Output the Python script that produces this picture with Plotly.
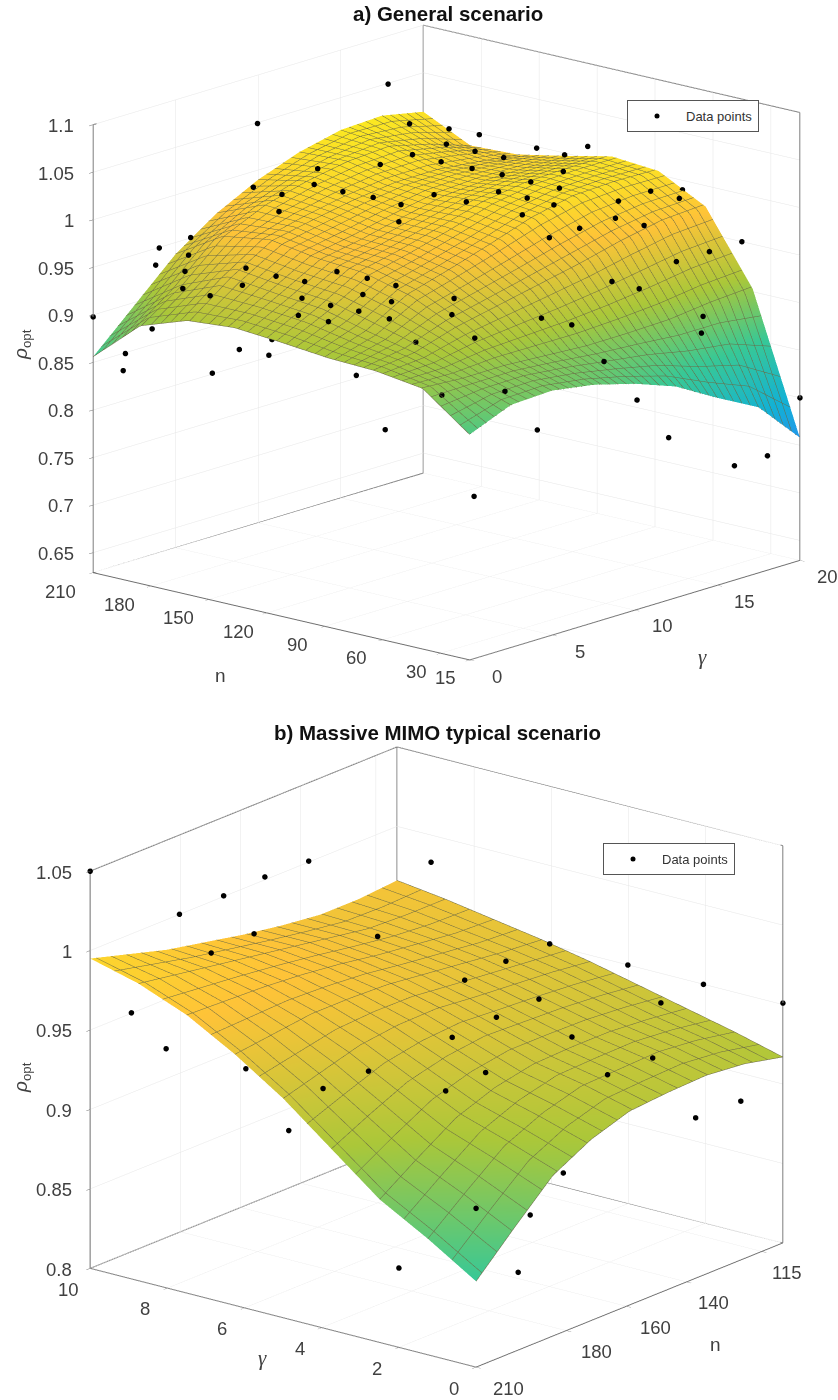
import plotly.graph_objects as go

PARULA = [[0.0,"#3e26a8"],[0.14,"#4752f4"],[0.28,"#2d87f8"],[0.42,"#12b1d6"],[0.56,"#37c897"],[0.7,"#abc739"],[0.84,"#fec338"],[1.0,"#f9fb15"]]
CMIN, CMAX = 0.616, 1.041

# ---- a) General scenario
gamma_a = [0, 2.5, 5, 7.5, 10, 12.5, 15, 17.5, 20]
n_a = [15, 39.4, 63.75, 88.1, 112.5, 136.9, 161.25, 185.6, 210]
rho_a = [
 [.866,.884,.886,.879,.867,.851,.826,.803,.758],
 [.903,.900,.900,.897,.894,.894,.895,.900,.903],
 [.910,.915,.928,.937,.946,.955,.966,.975,.978],
 [.912,.926,.951,.964,.978,.993,1.003,1.005,1.004],
 [.917,.939,.964,.974,.986,.999,1.006,1.008,1.008],
 [.921,.944,.968,.976,.986,.995,.998,.998,.997],
 [.917,.950,.976,.985,.993,.998,.998,.993,.987],
 [.900,.930,.968,.988,1.000,1.008,1.011,1.000,.985],
 [.856,.897,.938,.968,.990,1.006,1.016,1.018,1.009],
]
pts_a_gamma = [12.6,8.9,13.2,10.1,9.2,7.4,5.2,3.5,6,4.3,6.9,8.6,6.6,2.6,6,3.8,1.9,1.1,1.8,1,.6,2.6,.9,1.7,3.5,4.3,.4,.5,.3,.6,2.3,3.1,1.4,.5,1.7,2.5,.8,0,1.7,2.7,.3,.9,.9,.7,.3,.2,.5,14.3,15.2,11.1,11.9,16.8,14.4,15.1,12.7,10.9,10.2,10.5,12.8,11.3,12.1,19.7,19.9,14.7,9.5,10.4,11.2,13.8,15.5,12,9.5,12.1,12.9,11.1,10.2,17.3,15.1,13.1,9.9,11.2,12,4.9,4.3,6.8,7.7,14.6,16.4,14.5,4.4,8.6,.3,2.6,10.6,20,1.9,6.2,13.1,16.5,18.5,1.2]
pts_a_n = [165,201,159,131,140,157,140,157,132,149,124,107,107,136,103,192,192,170,193,171,136,106,123,115,98,90,167,137,152,107,90,82,99,108,87,78,95,210,194,66,120,142,201,125,197,150,78,148,140,122,114,124,89,83,106,123,101,88,76,80,72,105,75,47,98,89,81,56,39,74,69,43,35,53,61,22,20,20,26,23,93,65,61,36,28,19,50,19,50,19,32,19,19,15,75,33,24,19,19,23]
pts_a_rho = [1.098,1.059,1.056,1.053,1.043,1.040,1.043,1.041,1.035,1.033,1.028,1.030,1.030,1.030,1.017,.970,.969,.976,.951,.959,.981,.981,.977,.971,.973,.965,.946,.963,.946,.963,.966,.958,.955,.945,.953,.945,.943,.898,.884,.925,.915,.891,.859,.894,.846,.866,.896,1.050,1.043,1.063,1.055,1.028,1.050,1.058,1.048,1.045,1.052,1.050,1.047,1.042,1.035,.986,.991,1.030,1.022,1.032,1.025,1.020,1.022,1.017,1.022,1.017,1.009,1.007,.998,.975,.977,.977,.970,.957,.914,.960,.948,.943,.935,.912,.879,.895,.928,.896,.898,.896,.845,.800,.833,.830,.790,.745,.745,.791]

# ---- b) Massive MIMO typical scenario
gamma_b = [0, 1.25, 2.5, 3.75, 5, 6.25, 7.5, 8.75, 10]
n_b = [108, 120.75, 133.5, 146.25, 159, 171.75, 184.5, 197.25, 210]
rho_b = [
 [.917,.925,.932,.939,.946,.952,.957,.962,.966],
 [.9225,.9295,.935,.942,.949,.954,.958,.962,.964],
 [.925,.932,.937,.944,.951,.957,.961,.963,.964],
 [.924,.931,.937,.945,.953,.960,.964,.967,.967],
 [.922,.930,.936,.946,.9555,.963,.968,.971,.971],
 [.914,.923,.931,.943,.955,.964,.971,.975,.976],
 [.901,.912,.922,.937,.952,.964,.973,.979,.981],
 [.878,.893,.9065,.926,.945,.961,.974,.983,.988],
 [.854,.873,.890,.914,.938,.958,.975,.987,.995],
]
pts_b_gamma = [10,8.7,8.1,7.5,7.3,6,7,7.8,4.5,1.6,.9,.5,0,1.8,2.4,1.1,.2,1.5,2.1,.4,9.4,8.5,6.2,3.1,4.2,1,.1,.1,1.1,0,0,5.4,0,0,0,2,0]
pts_b_n = [210,197,190,184,172,148,194,198,185,165,148,128,108,177,183,175,146,184,191,173,204,204,207,206,207,194,165,150,206,122,137,203,181,210,192,210,196]
pts_b_rho = [1.05,1.021,1.031,1.042,1.044,1.033,1.017,1.003,1.024,1.022,1.0,.975,.951,1.019,1.008,.998,.979,.991,.980,.977,.960,.943,.947,.964,.947,.967,.949,.948,.964,.900,.901,.910,.900,.900,.882,.850,.849]

ticks_a = dict(g=[0,5,10,15,20], n=[15,30,60,90,120,150,180,210], z=[.65,.7,.75,.8,.85,.9,.95,1,1.05,1.1])
ticks_b = dict(g=[0,2,4,6,8,10], n=[115,140,160,180,210], z=[.8,.85,.9,.95,1,1.05])
range_a = dict(g=[0,20], n=[15,210], z=[.629,1.1])
range_b = dict(g=[0,10], n=[108,210], z=[.8,1.05])

FONT = "Liberation Sans"
GRID = "#e6e6e6"
EDGE = "#6e6e6e"
TICKTXT = "#404040"
TICKSIZE = 18.5

def box(r, front_g, front_n):
    g0, g1 = r["g"]; n0, n1 = r["n"]; z0, z1 = r["z"]
    bg = g1 if front_g == g0 else g0
    bn = n1 if front_n == n0 else n0
    xs,ys,zs=[],[],[]
    def seg(a,b):
        xs.extend([a[0],b[0],None]); ys.extend([a[1],b[1],None]); zs.extend([a[2],b[2],None])
    seg((front_g,front_n,z0),(bg,front_n,z0)); seg((front_g,front_n,z0),(front_g,bn,z0))
    seg((bg,front_n,z0),(bg,bn,z0)); seg((front_g,bn,z0),(bg,bn,z0))
    seg((bg,front_n,z0),(bg,front_n,z1)); seg((front_g,bn,z0),(front_g,bn,z1)); seg((bg,bn,z0),(bg,bn,z1))
    seg((bg,front_n,z1),(bg,bn,z1)); seg((front_g,bn,z1),(bg,bn,z1))
    return xs,ys,zs

def surf(x,y,z,scene,dx,dy):
    c = dict(show=True,color="#6b6a45",width=1,highlight=False)
    return go.Surface(x=x,y=y,z=z,scene=scene,colorscale=PARULA,cmin=CMIN,cmax=CMAX,showscale=False,
        lighting=dict(ambient=1,diffuse=0,specular=0,roughness=1,fresnel=0),
        contours=dict(x=dict(start=x[0],end=x[-1],size=dx,**c),y=dict(start=y[0],end=y[-1],size=dy,**c)),hoverinfo="skip")

def axis(vals,r,tl=6):
    return dict(range=r,tickvals=vals,ticktext=[f"{v:g}" for v in vals],tickmode="array",title=dict(text=""),
        showgrid=True,gridcolor=GRID,gridwidth=1,zeroline=False,showbackground=False,showspikes=False,
        showline=True,linecolor=EDGE,linewidth=2,ticks="outside",ticklen=tl,tickcolor=EDGE,showticklabels=False,autorange=False)

def legend_key(scene,legend):
    return go.Scatter3d(x=[None],y=[None],z=[None],mode="markers",scene=scene,name="Data points",
        marker=dict(size=5,color="black"),legend=legend,showlegend=True,hoverinfo="skip")

fig = go.Figure()
fig.add_trace(surf(gamma_a,n_a,rho_a,"scene",0.5,5))
fig.add_trace(go.Scatter3d(x=pts_a_gamma,y=pts_a_n,z=pts_a_rho,mode="markers",scene="scene",name="Data points",
    marker=dict(size=3.2,color="black"),showlegend=False,hoverinfo="skip"))
fig.add_trace(legend_key("scene","legend"))
xs,ys,zs = box(range_a,0,15)
fig.add_trace(go.Scatter3d(x=xs,y=ys,z=zs,mode="lines",scene="scene",line=dict(color=EDGE,width=2),showlegend=False,hoverinfo="skip"))

fig.add_trace(surf(gamma_b,n_b,rho_b,"scene2",0.625,5))
fig.add_trace(go.Scatter3d(x=pts_b_gamma,y=pts_b_n,z=pts_b_rho,mode="markers",scene="scene2",name="Data points",
    marker=dict(size=3.2,color="black"),showlegend=False,hoverinfo="skip"))
fig.add_trace(legend_key("scene2","legend2"))
xs,ys,zs = box(range_b,0,210)
fig.add_trace(go.Scatter3d(x=xs,y=ys,z=zs,mode="lines",scene="scene2",line=dict(color=EDGE,width=2),showlegend=False,hoverinfo="skip"))

H = 1400
def ann(x,y,t,size=15,rot=0,fam=FONT,color=TICKTXT,anchor="center"):
    return dict(x=x/838,y=1-y/H,xref="paper",yref="paper",text=t,showarrow=False,textangle=rot,
        font=dict(family=fam,size=size,color=color),xanchor=anchor,yanchor="middle")

# tick labels, placed from the tick values along each projected box edge
labels = []
for v in ticks_a["z"]:
    labels.append(ann(76,573-950*(v-range_a["z"][0]),f"{v:g}",TICKSIZE,anchor="right"))
for v in ticks_a["n"]:
    m=(v-15)/195
    labels.append(ann(470-377*m-24-9*m,660-87*m+18,f"{v:g}",TICKSIZE))
for v in ticks_a["g"]:
    g=v/20
    labels.append(ann(470+330*g+27,660-100*g+16,f"{v:g}",TICKSIZE))
for v in ticks_b["z"]:
    labels.append(ann(74,1269-1588*(v-.8),f"{v:g}",TICKSIZE,anchor="right"))
for v in ticks_b["g"]:
    u=v/10
    labels.append(ann(476-386*u-22,1368-99*u+20,f"{v:g}",TICKSIZE))
for v in ticks_b["n"]:
    w=(210-v)/102
    labels.append(ann(476+307*w+32-7*w,1368-124*w+20,f"{v:g}",TICKSIZE))

fig.update_layout(
    width=838,height=H,margin=dict(l=0,r=0,t=0,b=0),paper_bgcolor="white",
    scene=dict(domain=dict(x=[0,1],y=[1-700/H,1-0/H]),aspectmode="manual",aspectratio=dict(x=1.431,y=1.431,z=1.327),
        camera=dict(eye=dict(x=-1.356,y=-1.0846,z=0.4534),up=dict(x=0,y=0,z=1),center=dict(x=-.056,y=.0554,z=-.0206),projection=dict(type="orthographic")),
        xaxis=axis(ticks_a["g"],range_a["g"]),yaxis=axis(ticks_a["n"],range_a["n"]),zaxis=axis(ticks_a["z"],range_a["z"],8)),
    scene2=dict(domain=dict(x=[0,1],y=[0,1-720/H]),aspectmode="manual",aspectratio=dict(x=1.45,y=1.45,z=1.234),
        camera=dict(eye=dict(x=-1.0175,y=1.3623,z=0.5687),up=dict(x=0,y=0,z=1),center=dict(x=.0385,y=.0343,z=-.0083),projection=dict(type="orthographic")),
        xaxis=axis(ticks_b["g"],range_b["g"]),yaxis=axis(ticks_b["n"],range_b["n"]),zaxis=axis(ticks_b["z"],range_b["z"],8)),
    legend=dict(x=627/838,y=1-100/H,xanchor="left",yanchor="top",bordercolor="#555",borderwidth=1,bgcolor="white",font=dict(family=FONT,size=13,color="#333"),itemwidth=48),
    legend2=dict(x=603/838,y=1-843/H,xanchor="left",yanchor="top",bordercolor="#555",borderwidth=1,bgcolor="white",font=dict(family=FONT,size=13,color="#333"),itemwidth=48),
    annotations=labels+[
        ann(447.5,13,"<b>a) General scenario</b>",20.5,color="#111"),
        ann(437,732,"<b>b) Massive MIMO typical scenario</b>",20.5,color="#111"),
        ann(221,675,"n",19), ann(702,657,"<i>γ</i>",21,fam="Liberation Serif"),
        ann(22,345,"<i>ρ</i><sub>opt</sub>",19,rot=-90),
        ann(262,1358,"<i>γ</i>",21,fam="Liberation Serif"), ann(715,1344,"n",19),
        ann(22,1078,"<i>ρ</i><sub>opt</sub>",19,rot=-90),
    ],
)
fig.write_html("out.html",config=dict(displayModeBar=False),post_script="document.body.style.margin='0';")
